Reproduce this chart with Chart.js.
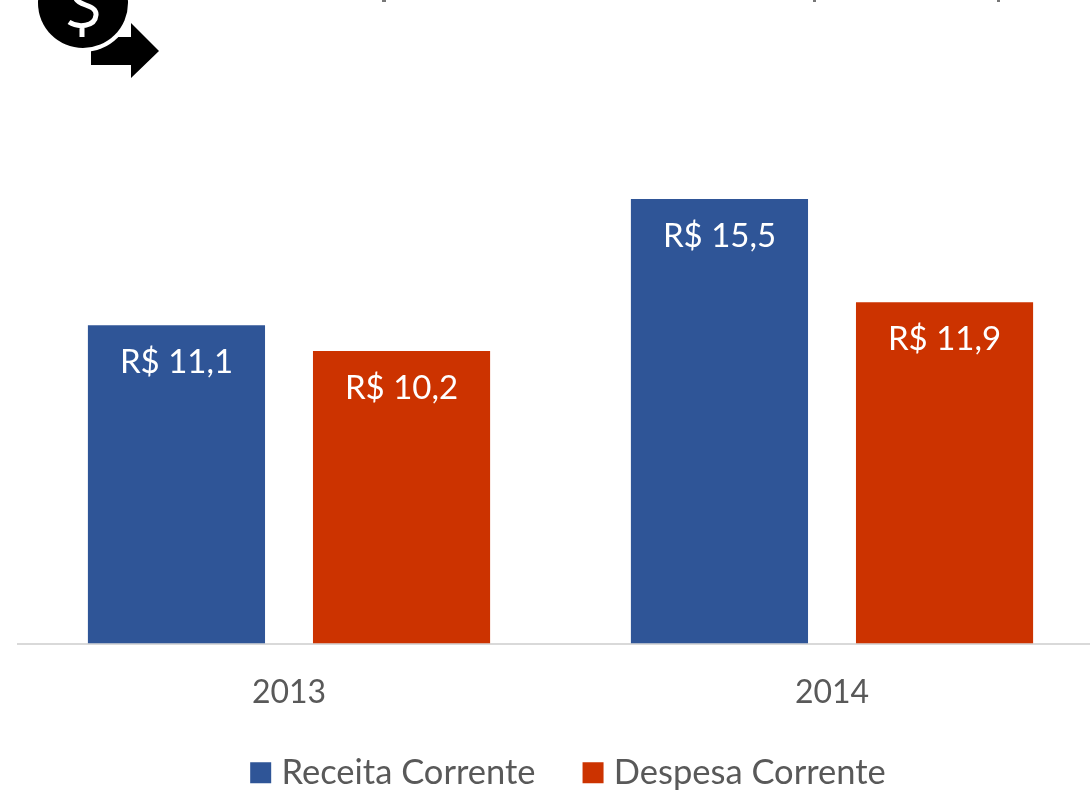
<!DOCTYPE html>
<html lang="pt"><head><meta charset="utf-8">
<script src="https://cdn.jsdelivr.net/npm/chart.js@4"></script>
<style>
html,body{margin:0;padding:0;width:1090px;height:791px;overflow:hidden;background:#fff}
#wrap{position:relative;width:1090px;height:791px;overflow:hidden}
canvas{position:absolute;left:0;top:0}
svg{position:absolute;left:0;top:0}
</style></head><body>
<div id="wrap">
<canvas id="c" width="1150" height="800" style="width:1150px;height:800px"></canvas>
<svg width="1090" height="90" viewBox="0 0 1090 90" aria-hidden="true">
<path d="M91 37H131V23L159 51L131 78V65H91Z" fill="#000"/>
<circle cx="83" cy="3" r="49" fill="#fff"/>
<circle cx="83" cy="3" r="45" fill="#000"/>
<path d="M76 -1C80 6 97 5 96 15C95 27 78 28 69 22M82 27V37" fill="none" stroke="#fff" stroke-width="5"/>
<g fill="#777"><rect x="382" y="0" width="4" height="2"/><rect x="813" y="0" width="3" height="2"/><rect x="997" y="0" width="3" height="2"/></g>
</svg>
</div>
<script>
const categories = ['2013', '2014'];
const receitaCorrente = [11.1, 15.5];
const despesaCorrente = [10.2, 11.9];
const seriesNames = ['Receita Corrente', 'Despesa Corrente'];
const seriesColors = ['#2F5597', '#CC3300'];
const FONT = 'Lato, "Open Sans", sans-serif';

const barLabels = {
  id: 'barLabels',
  afterDatasetsDraw(chart) {
    const ctx = chart.ctx;
    ctx.save();
    ctx.fillStyle = '#fff';
    ctx.font = '33px ' + FONT;
    ctx.textAlign = 'center';
    ctx.textBaseline = 'middle';
    chart.data.datasets.forEach((ds, i) => {
      chart.getDatasetMeta(i).data.forEach((bar, j) => {
        const t = 'R$ ' + ds.data[j].toFixed(1).replace('.', ',');
        ctx.fillText(t, bar.x, bar.y + 37);
      });
    });
    ctx.restore();
  }
};

/* Squares of the legend: placed from the legend's own layout boxes */
const legendSquares = {
  id: 'legendSquares',
  afterDraw(chart) {
    const ctx = chart.ctx;
    chart.legend.legendHitBoxes.forEach((b, i) => {
      ctx.fillStyle = seriesColors[i];
      ctx.fillRect(b.left, b.top + b.height / 2 - 10.5, 21, 21);
    });
  }
};

new Chart(document.getElementById('c'), {
  type: 'bar',
  data: {
    labels: categories,
    datasets: [
      { label: seriesNames[0], data: receitaCorrente, backgroundColor: seriesColors[0] },
      { label: seriesNames[1], data: despesaCorrente, backgroundColor: seriesColors[1] }
    ]
  },
  options: {
    responsive: false,
    animation: false,
    layout: { padding: { left: 17.5, right: 31.5, top: 70, bottom: 0 } },
    datasets: { bar: { barPercentage: 0.787, categoryPercentage: 0.829 } },
    scales: {
      x: {
        grid: { display: false, drawTicks: false },
        border: { display: true, color: '#D9D9D9', width: 2 },
        ticks: { color: '#595959', font: { family: FONT, size: 32 }, padding: 30, maxRotation: 0 },
        afterFit(axis) { axis.height = 65; }
      },
      y: {
        position: 'right', min: 0, max: 20,
        grid: { display: false, drawTicks: false },
        border: { display: false },
        ticks: { display: false },
        afterFit(axis) { axis.width = 15; }
      }
    },
    plugins: {
      tooltip: { enabled: false },
      title: { display: false },
      legend: {
        position: 'bottom',
        labels: {
          color: '#595959', boxWidth: 14, boxHeight: 21, padding: 47,
          font: { family: FONT, size: 34.5 },
          generateLabels(chart) {
            return chart.data.datasets.map((d, i) => ({
              text: d.label, fillStyle: 'rgba(0,0,0,0)', strokeStyle: 'rgba(0,0,0,0)',
              lineWidth: 0, datasetIndex: i, fontColor: '#595959'
            }));
          }
        }
      }
    }
  },
  plugins: [barLabels, legendSquares]
});
</script>
</body></html>
